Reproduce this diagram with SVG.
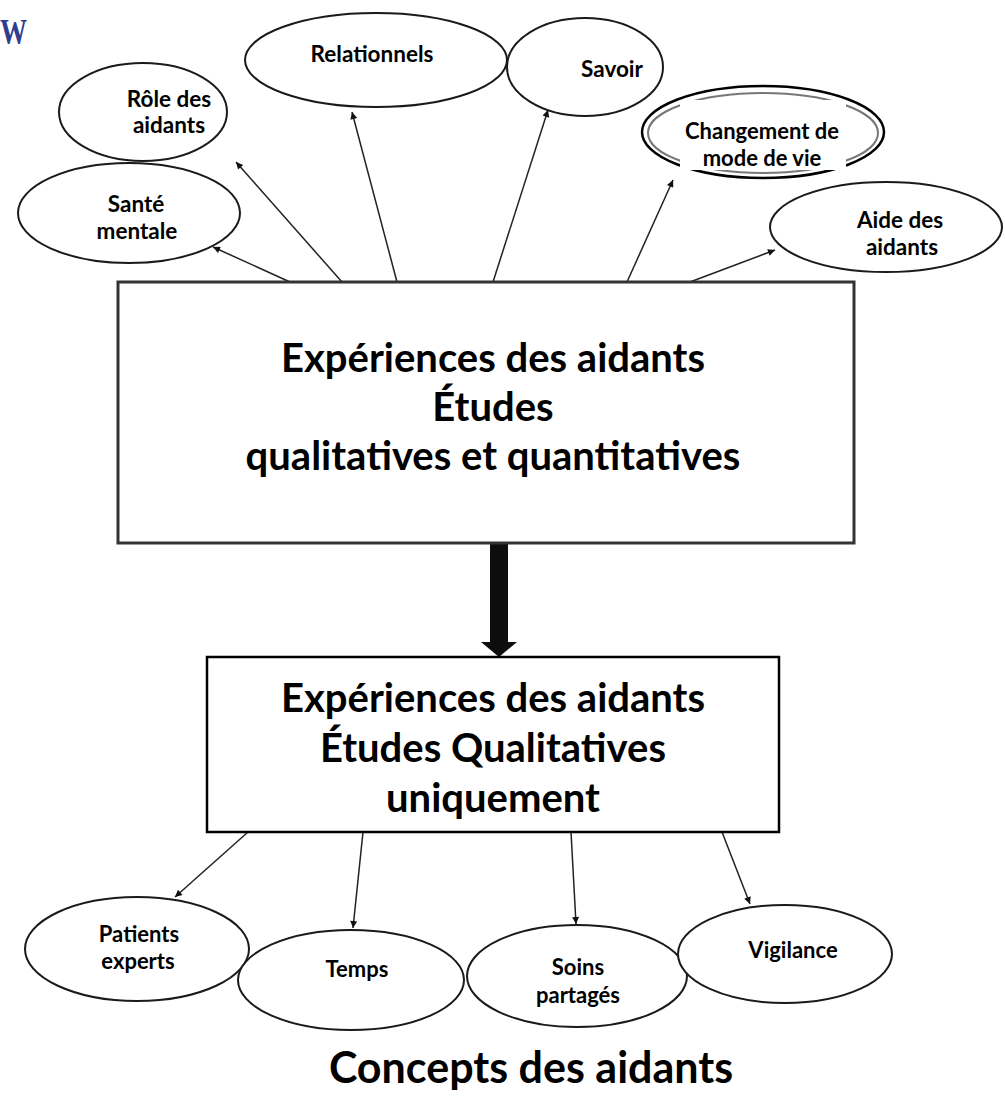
<svg xmlns="http://www.w3.org/2000/svg" width="1005" height="1103" viewBox="0 0 1005 1103">
<style>
.ell{fill:#fff;stroke:#1a1a1a;stroke-width:2}
.lbl{font-family:Lato,'Open Sans','DejaVu Sans',sans-serif;font-weight:700;font-size:22.5px;fill:#000;text-anchor:middle}
.sm{font-size:22px}
.big{font-family:Lato,'Open Sans','DejaVu Sans',sans-serif;font-weight:700;font-size:40px;fill:#000;text-anchor:middle}
.con{stroke:#222;stroke-width:1.5;fill:none;marker-end:url(#ah)}
</style>
<defs>
<marker id="ah" viewBox="0 0 10 10" refX="10" refY="5" markerWidth="9" markerHeight="7" markerUnits="userSpaceOnUse" orient="auto">
<path d="M0,0 L10,5 L0,10 z" fill="#111"/>
</marker>
</defs>
<rect width="1005" height="1103" fill="#fff"/>
<text x="0" y="44" font-family="'Liberation Serif',serif" font-weight="700" font-size="36" fill="#2f3d8f" textLength="27" lengthAdjust="spacingAndGlyphs">W</text>

<g id="connectors">
<line class="con" x1="290" y1="282" x2="213" y2="247"/>
<line class="con" x1="342" y1="282" x2="236" y2="162"/>
<line class="con" x1="397" y1="282" x2="352" y2="112"/>
<line class="con" x1="493" y1="282" x2="548" y2="110"/>
<line class="con" x1="627" y1="282" x2="673" y2="180"/>
<line class="con" x1="690" y1="282" x2="775" y2="250"/>
<line class="con" x1="248" y1="832" x2="175" y2="897"/>
<line class="con" x1="363" y1="832" x2="353" y2="928"/>
<line class="con" x1="571" y1="832" x2="576" y2="924"/>
<line class="con" x1="722" y1="832" x2="750" y2="904"/>
<g id="thick-arrow" fill="#0d0d0d">
<rect x="490" y="543" width="18" height="100"/>
<polygon points="481,642 517,642 499,657"/>
</g>
</g>

<g id="n-sante">
<ellipse class="ell" cx="129" cy="213" rx="111" ry="50"/>
<text class="lbl" x="136" y="212">Santé</text>
<text class="lbl" x="137" y="239">mentale</text>
</g>
<g id="n-role">
<ellipse class="ell" cx="143" cy="112" rx="84" ry="49"/>
<text class="lbl" x="169" y="107">Rôle des</text>
<text class="lbl" x="169" y="133">aidants</text>
</g>
<g id="n-relationnels">
<ellipse class="ell" cx="376" cy="60" rx="131" ry="47"/>
<text class="lbl" x="372" y="62">Relationnels</text>
</g>
<g id="n-savoir">
<ellipse class="ell" cx="585" cy="67" rx="78" ry="49"/>
<text class="lbl" x="612" y="77">Savoir</text>
</g>
<g id="n-changement">
<ellipse cx="763" cy="132" rx="121" ry="46" fill="#fff" stroke="#000" stroke-width="2.5"/>
<ellipse cx="763" cy="133" rx="115" ry="40" fill="none" stroke="#777" stroke-width="2"/>
<rect x="680" y="100" width="166" height="70" fill="#fff"/>
<text class="lbl" x="762" y="139" style="font-size:22px">Changement de</text>
<text class="lbl" x="762" y="166" style="font-size:22px">mode de vie</text>
</g>
<g id="n-aide">
<ellipse class="ell" cx="886" cy="227" rx="116" ry="45"/>
<text class="lbl" x="900" y="228">Aide des</text>
<text class="lbl" x="902" y="255">aidants</text>
</g>

<g id="n-main">
<rect x="118" y="282" width="736" height="261" fill="#fff" stroke="#333" stroke-width="3"/>
<text class="big" x="493" y="372">Expériences des aidants</text>
<text class="big" x="493" y="421">Études</text>
<text class="big" x="493" y="470">qualitatives et quantitatives</text>
</g>

<g id="n-qual">
<rect x="207" y="657" width="572" height="175" fill="#fff" stroke="#000" stroke-width="2.5"/>
<text class="big" x="493" y="712">Expériences des aidants</text>
<text class="big" x="493" y="762">Études Qualitatives</text>
<text class="big" x="493" y="812">uniquement</text>
</g>

<g id="n-patients">
<ellipse class="ell" cx="137" cy="949" rx="112" ry="52"/>
<text class="lbl sm" x="139" y="942">Patients</text>
<text class="lbl sm" x="138" y="969">experts</text>
</g>
<g id="n-temps">
<ellipse class="ell" cx="351" cy="980" rx="113" ry="50"/>
<text class="lbl sm" x="357" y="977">Temps</text>
</g>
<g id="n-soins">
<ellipse class="ell" cx="577" cy="976" rx="110" ry="51"/>
<text class="lbl sm" x="578" y="975">Soins</text>
<text class="lbl sm" x="578" y="1003">partagés</text>
</g>
<g id="n-vigilance">
<ellipse class="ell" cx="785" cy="954" rx="107" ry="49"/>
<text class="lbl sm" x="793" y="958">Vigilance</text>
</g>

<text class="big" x="531" y="1083" style="font-size:43px">Concepts des aidants</text>
</svg>
